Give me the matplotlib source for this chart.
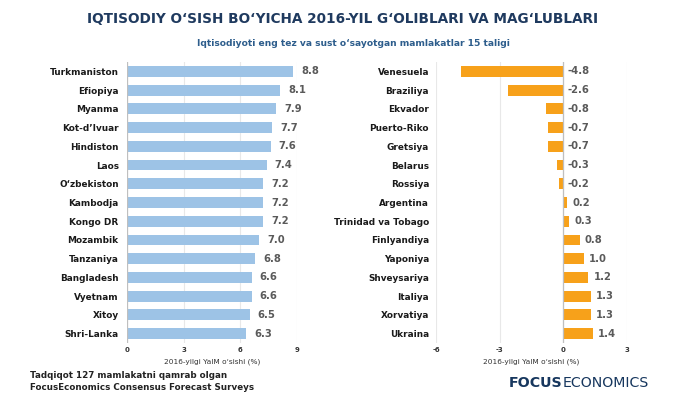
import matplotlib.pyplot as plt

# === DATA ===
winners = ["Turkmaniston", "Efiopiya", "Myanma", "Kot-d\u2019Ivuar", "Hindiston", "Laos",
           "O\u2018zbekiston", "Kambodja", "Kongo DR", "Mozambik", "Tanzaniya",
           "Bangladesh", "Vyetnam", "Xitoy", "Shri-Lanka"]
winners_growth = [8.8, 8.1, 7.9, 7.7, 7.6, 7.4, 7.2, 7.2, 7.2, 7.0, 6.8, 6.6, 6.6, 6.5, 6.3]

losers = ["Venesuela", "Braziliya", "Ekvador", "Puerto-Riko", "Gretsiya", "Belarus",
          "Rossiya", "Argentina", "Trinidad va Tobago", "Finlyandiya", "Yaponiya",
          "Shveysariya", "Italiya", "Xorvatiya", "Ukraina"]
losers_growth = [-4.8, -2.6, -0.8, -0.7, -0.7, -0.3, -0.2, 0.2, 0.3, 0.8, 1.0, 1.2, 1.3, 1.3, 1.4]

left_ticks = [0, 3, 6, 9]
right_ticks = [-6, -3, 0, 3]

TITLE = "IQTISODIY O\u2018SISH BO\u2018YICHA 2016-YIL G\u2018OLIBLARI VA MAG\u2018LUBLARI"
SUBTITLE = "Iqtisodiyoti eng tez va sust o\u2018sayotgan mamlakatlar 15 taligi"
XLABEL = "2016-yilgi YalM o\u2018sishi (%)"

BLUE = "#9dc3e6"
ORANGE = "#f7a11a"
NAVY = "#1f3a5f"
GRAY = "#5a5a5a"

plt.rcParams["font.family"] = ["DejaVu Sans"]

fig = plt.figure(figsize=(6.8, 4.0), dpi=100)
fig.patch.set_facecolor("white")


def draw_panel(ax, names, vals, color, xlim, ticks, ypad, vpad):
    y = list(range(len(names)))
    ax.barh(y, vals, height=0.58, color=color, zorder=3)
    ax.set_ylim(len(names) - 0.5, -0.5)
    ax.set_xlim(*xlim)
    ax.set_yticks(y)
    ax.set_yticklabels(names, fontsize=6.4, fontweight="bold", color="#1a1a1a")
    ax.set_xticks(ticks)
    ax.set_xticklabels([str(t) for t in ticks], fontsize=5, fontweight="bold", color="#333333")
    ax.tick_params(axis="both", length=0)
    ax.tick_params(axis="y", pad=ypad)
    ax.tick_params(axis="x", pad=3)
    for s in ax.spines.values():
        s.set_visible(False)
    ax.grid(axis="x", color="#e8e8e8", linewidth=0.8, zorder=0)
    ax.axvline(0, color="#bfbfbf", linewidth=0.9, zorder=4)
    for yi, v in zip(y, vals):
        ax.annotate(f"{v:.1f}", (max(v, 0), yi), xytext=(vpad, 0),
                    textcoords="offset pixels", va="center", ha="left",
                    fontsize=7.2, fontweight="bold", color=GRAY, zorder=5)
    ax.set_xlabel(XLABEL, fontsize=5.3, color="#333333", labelpad=4)


ax1 = fig.add_axes([127 / 680, 0.1425, 170 / 680, 0.7025])
draw_panel(ax1, winners, winners_growth, BLUE, (0, 9), left_ticks, 6, 8)

ax2 = fig.add_axes([436 / 680, 0.1425, 190.5 / 680, 0.7025])
draw_panel(ax2, losers, losers_growth, ORANGE, (-6, 3), right_ticks, 5, 5)

fig.text(343 / 680, 1 - 19 / 400, TITLE, ha="center", va="center", fontsize=9.8,
         fontweight="bold", color=NAVY)
fig.text(353 / 680, 1 - 43 / 400, SUBTITLE, ha="center", va="center", fontsize=6.6,
         fontweight="bold", color="#2d5d8c")

fig.text(30 / 680, 1 - 376 / 400, "Tadqiqot 127 mamlakatni qamrab olgan",
         ha="left", va="center", fontsize=6.3, fontweight="bold", color="#222222")
fig.text(30 / 680, 1 - 388 / 400, "FocusEconomics Consensus Forecast Surveys",
         ha="left", va="center", fontsize=6.3, fontweight="bold", color="#222222")

# logo
t1 = fig.text(509 / 680, 1 - 383 / 400, "FOCUS", ha="left", va="center", fontsize=10.2,
              fontweight="bold", color="#17375e")
fig.canvas.draw()
bb = t1.get_window_extent()
fig.text(bb.x1 / fig.bbox.width, 1 - 383 / 400, "ECONOMICS", ha="left", va="center",
         fontsize=10.2, fontweight="normal", color="#17375e")

fig.savefig("out.png", dpi=100, facecolor="white")
